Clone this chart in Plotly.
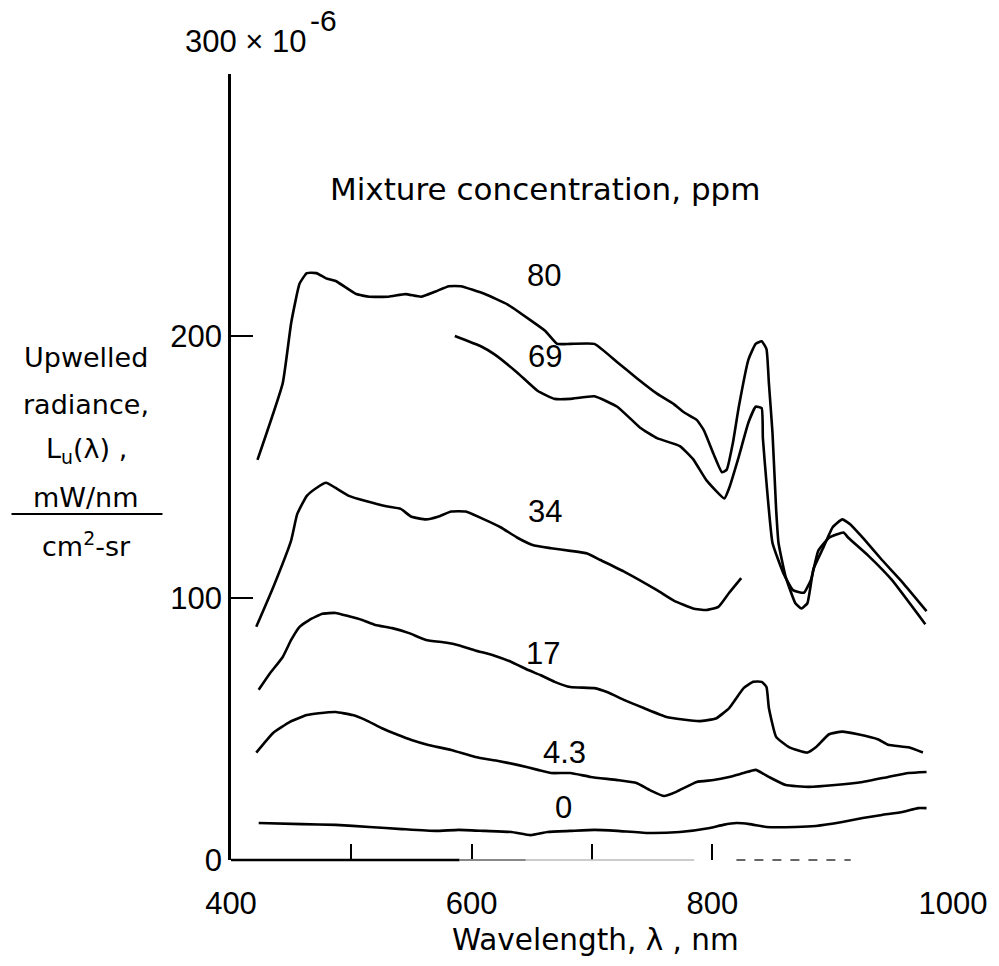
import plotly.graph_objects as go

# ---- data (radiance in units of 1e-6 mW/nm / cm^2-sr) ----
wl_80 = [422, 443, 450, 457, 463, 471, 479, 487, 504, 515, 531, 545, 558, 570, 581, 591, 611, 630, 649, 661,
         671, 682, 702, 721, 737, 754, 768, 776, 787, 793, 801, 808, 812, 817, 822, 830, 836, 841, 845, 847,
         850, 853, 855, 861, 869, 874, 879, 884, 892, 900, 908, 915, 925, 941, 958, 978]
rad_80 = [152.7, 182, 205, 220, 224, 224, 222, 221, 216, 215, 215, 216, 215, 217, 219, 219, 216, 212, 206, 202,
          197, 197, 197, 190, 184, 178, 174, 171, 168, 164, 155, 148, 149, 159, 173, 191, 197, 198, 195, 182,
          163, 134, 121, 108, 98, 96, 98, 111, 119, 127, 130, 128, 123, 114.5, 106, 95]

wl_69 = [586, 608, 619, 638, 655, 669, 682, 702, 721, 740, 754, 773, 784, 795, 810, 814, 822, 830, 836, 841,
         842, 845, 850, 859, 867, 876, 882, 888, 897, 909, 913, 930, 949, 977]
rad_69 = [200, 196, 193, 186, 179, 176, 176, 177, 173, 165, 161, 158, 153, 145, 138, 142, 154, 167, 173, 172.5,
          161, 144, 121, 109.5, 103, 102, 107, 118, 123, 125, 123, 116, 107, 90]

wl_34 = [421, 435, 450, 455, 463, 471, 479, 487, 498, 512, 529, 541, 550, 562, 572, 583, 595, 608, 624, 638,
         652, 666, 682, 696, 707, 727, 754, 768, 784, 795, 805, 814, 824]
rad_34 = [89, 104, 122, 132, 139, 142, 144, 142, 139, 137, 135, 134, 131, 130, 131, 133, 133, 130.5, 127, 123,
          120, 119, 118, 117, 114.5, 110, 103, 99, 96, 95.4, 96.6, 102, 107.6]

wl_17 = [423, 432, 443, 450, 457, 465, 476, 487, 498, 509, 520, 534, 548, 562, 578, 589, 603, 619, 633, 647,
         657, 669, 682, 702, 713, 727, 743, 762, 789, 803, 814, 826, 834, 841, 845, 847, 853, 864, 879, 886,
         897, 908, 921, 938, 946, 963, 975]
rad_17 = [65, 71, 77.5, 84, 89, 91.6, 94, 94.3, 93, 91.6, 89.7, 88.5, 86.6, 84, 83, 82, 80, 78, 75.6, 72.5,
          70.6, 68, 66, 65.6, 64, 61, 58, 54.6, 53, 54, 58, 65.6, 68, 68, 66, 58, 47, 43, 41, 43,
          48, 49, 48, 46, 44, 43, 41]

wl_43 = [421, 435, 449, 463, 473, 487, 501, 512, 525, 539, 550, 564, 583, 603, 622, 638, 655, 666, 682, 699,
         721, 737, 748, 760, 770, 787, 801, 814, 826, 836, 847, 861, 880, 902, 925, 946, 963, 978]
rad_43 = [41, 48.5, 52.7, 55.3, 56, 56.5, 55.3, 53.4, 50.4, 47.7, 45.8, 43.9, 42, 39.3, 37.8, 36.3, 34.4, 33.2, 33.2, 31.7,
          30.5, 29.4, 26.7, 24.4, 26, 29.8, 30.5, 31.7, 33.2, 34.4, 31.7, 28.6, 27.9, 28.6, 29.8, 31.7, 33.2, 33.6]

wl_0 = [423, 459, 487, 515, 542, 570, 589, 611, 633, 649, 663, 682, 702, 721, 746, 773, 798, 809, 820, 831,
        845, 869, 886, 908, 925, 941, 958, 971, 978]
rad_0 = [14.1, 13.7, 13.4, 12.6, 11.8, 11.1, 11.5, 11.1, 10.7, 9.5, 10.7, 11.1, 11.5, 11.1, 10.3, 10.7, 12.2, 13.4, 14.1, 13.7,
         12.6, 12.6, 13, 14.5, 16, 17.2, 18.3, 19.8, 19.8]

series = [(wl_80, rad_80), (wl_69, rad_69), (wl_34, rad_34), (wl_17, rad_17), (wl_43, rad_43), (wl_0, rad_0)]
curve_labels = ["80", "69", "34", "17", "4.3", "0"]

x_tickvals = [400, 600, 800, 1000]
x_ticktext = ["400", "600", "800", "1000"]
x_minor_ticks = [500, 700]
y_tickvals = [0, 100, 200]
y_ticktext = ["0", "100", "200"]
y_minor_ticks = [300]

NUM_FONT = "Liberation Sans, Arial, sans-serif"
TEXT_FONT = "DejaVu Sans, sans-serif"

fig = go.Figure()
for xs, ys in series:
    fig.add_trace(go.Scatter(x=xs, y=ys, mode="lines",
                             line=dict(color="black", width=2.6, shape="spline", smoothing=0.4),
                             hoverinfo="skip"))

# curve labels
label_pos = [(660, 223), (661, 192), (661, 133), (659, 79), (677, 41), (676, 20)]
anns = []
for txt, (lx, ly) in zip(curve_labels, label_pos):
    anns.append(dict(x=lx, y=ly, xref="x", yref="y", text=txt, showarrow=False,
                     font=dict(family=NUM_FONT, size=31, color="black")))

anns.append(dict(x=661, y=256, xref="x", yref="y", text="Mixture concentration, ppm", showarrow=False,
                 font=dict(family=TEXT_FONT, size=31, color="black")))

# top scale label
anns.append(dict(x=-0.066, y=1.041, xref="paper", yref="paper", xanchor="left", yanchor="middle",
                 text="300 × 10", showarrow=False,
                 font=dict(family=NUM_FONT, size=31, color="black")))
anns.append(dict(x=0.107, y=1.0687, xref="paper", yref="paper", xanchor="left", yanchor="middle",
                 text="-6", showarrow=False,
                 font=dict(family=NUM_FONT, size=30, color="black")))

# x title
anns.append(dict(x=0.5048, y=-0.1018, xref="paper", yref="paper", xanchor="center", yanchor="middle",
                 text="Wavelength, λ , nm", showarrow=False,
                 font=dict(family=TEXT_FONT, size=29.5, color="black")))

# y title (stacked)
ytitle = [("Upwelled", 0.6387), ("radiance,", 0.580), ("L<sub>u</sub>(λ) ,", 0.5216),
          ("mW/nm", 0.4618), ("cm<sup>2</sup>-sr", 0.4008)]
for t, yy in ytitle:
    anns.append(dict(x=-0.2008, y=yy, xref="paper", yref="paper", xanchor="center", yanchor="middle",
                     text=t, showarrow=False, font=dict(family=TEXT_FONT, size=27, color="black")))

shapes = [
    dict(type="line", xref="paper", yref="paper", x0=-0.304, x1=-0.0949, y0=0.4402, y1=0.4402,
         line=dict(color="black", width=2)),
    # partially faded bottom axis as in the original
    dict(type="line", xref="x", yref="paper", x0=400, x1=590, y0=0, y1=0, line=dict(color="black", width=2.5)),
    dict(type="line", xref="x", yref="paper", x0=590, x1=645, y0=0, y1=0, line=dict(color="#888", width=2)),
    dict(type="line", xref="x", yref="paper", x0=645, x1=785, y0=0, y1=0, line=dict(color="#bbb", width=1.5)),
    dict(type="line", xref="x", yref="paper", x0=820, x1=915, y0=0, y1=0,
         line=dict(color="#333", width=1.5, dash="dash")),
]

fig.update_layout(
    width=999, height=966,
    margin=dict(l=231, r=41, t=74, b=106),
    paper_bgcolor="white", plot_bgcolor="white",
    showlegend=False,
    annotations=anns, shapes=shapes,
    xaxis=dict(range=[400, 1000], showgrid=False, zeroline=False, showline=False,
               tickmode="array", tickvals=x_tickvals, ticktext=x_ticktext,
               ticks="inside", ticklen=16, tickwidth=2, tickcolor="black",
               minor=dict(tickmode="array", tickvals=x_minor_ticks, ticks="inside", ticklen=16,
                          tickwidth=2, tickcolor="black", showgrid=False),
               ticklabelstandoff=22,
               tickfont=dict(family=NUM_FONT, size=31, color="black")),
    yaxis=dict(range=[0, 300], showgrid=False, zeroline=False, showline=True,
               linecolor="black", linewidth=2.5,
               tickmode="array", tickvals=y_tickvals, ticktext=y_ticktext,
               ticks="inside", ticklen=22, tickwidth=2, tickcolor="black",
               minor=dict(tickmode="array", tickvals=y_minor_ticks, ticks="inside", ticklen=22,
                          tickwidth=2, tickcolor="black", showgrid=False),
               tickfont=dict(family=NUM_FONT, size=31, color="black")),
)

fig.write_html("out.html")
